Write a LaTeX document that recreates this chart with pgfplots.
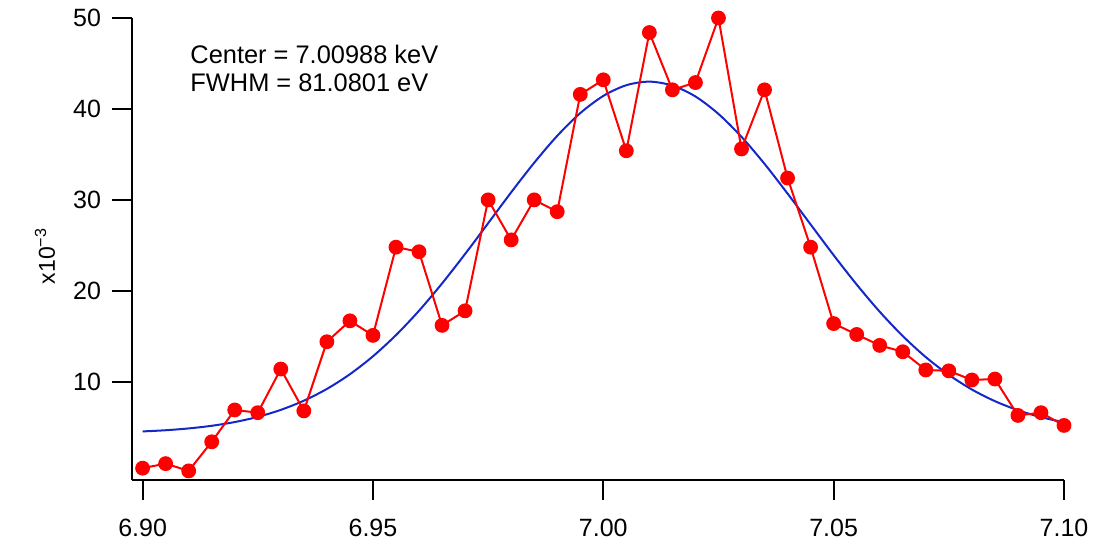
\documentclass[border=0pt]{standalone}
\usepackage{fontspec}
\setmainfont{Liberation Sans}
\usepackage{pgfplots}
\pgfplotsset{compat=1.18}

\definecolor{datred}{RGB}{255,0,0}
\definecolor{fitblue}{RGB}{20,40,200}

\begin{document}
\begin{tikzpicture}
\begin{axis}[
    at={(0,0)}, anchor=south west,
    scale only axis,
    width=466pt, height=231pt,
    xmin=6.8977, xmax=7.10,
    ymin=-0.8, ymax=50,
    axis lines*=left,
    axis line style={-, line width=1pt},
    xtick align=outside, ytick align=outside,
    major tick length=10pt,
    xtick style={black, line width=1pt},
    ytick style={black, line width=1pt},
    xtick={6.90,6.95,7.00,7.05,7.10},
    xticklabels={6.90,6.95,7.00,7.05,7.10},
    ytick={10,20,30,40,50},
    yticklabels={10,20,30,40,50},
    ticklabel style={font=\fontsize{12.5}{14}\selectfont},
    xticklabel style={yshift=-5.75pt},
    yticklabel style={xshift=-2pt},
    ylabel={x10\textsuperscript{−3}},
    ylabel style={at={(axis description cs:-0.0933,0.485)}, anchor=center, font=\fontsize{11.5}{13}\selectfont},
    clip=false,
]

\addplot[fitblue, line width=1pt, smooth] coordinates {
    (6.900,4.54) (6.905,4.67) (6.910,4.87) (6.915,5.16) (6.920,5.57)
    (6.925,6.14) (6.930,6.91) (6.935,7.92) (6.940,9.21) (6.945,10.83)
    (6.950,12.80) (6.955,15.13) (6.960,17.81) (6.965,20.81) (6.970,24.05)
    (6.975,27.43) (6.980,30.83) (6.985,34.08) (6.990,37.04) (6.995,39.54)
    (7.000,41.43) (7.005,42.61) (7.010,43.00) (7.015,42.57) (7.020,41.37)
    (7.025,39.45) (7.030,36.93) (7.035,33.96) (7.040,30.69) (7.045,27.30)
    (7.050,23.92) (7.055,20.69) (7.060,17.70) (7.065,15.03) (7.070,12.71)
    (7.075,10.76) (7.080,9.15) (7.085,7.87) (7.090,6.87) (7.095,6.11)
    (7.100,5.55)
};

\addplot[datred, line width=1pt, mark=*, mark size=3.2pt, mark options={fill=datred, draw=datred}] coordinates {
    (6.900,0.5) (6.905,1.0) (6.910,0.2) (6.915,3.4) (6.920,6.9)
    (6.925,6.6) (6.930,11.4) (6.935,6.8) (6.940,14.4) (6.945,16.7)
    (6.950,15.1) (6.955,24.8) (6.960,24.3) (6.965,16.2) (6.970,17.8)
    (6.975,30.0) (6.980,25.6) (6.985,30.0) (6.990,28.7) (6.995,41.6)
    (7.000,43.2) (7.005,35.4) (7.010,48.4) (7.015,42.1) (7.020,42.9)
    (7.025,50.0) (7.030,35.6) (7.035,42.1) (7.040,32.4) (7.045,24.8)
    (7.050,16.4) (7.055,15.2) (7.060,14.0) (7.065,13.3) (7.070,11.3)
    (7.075,11.2) (7.080,10.2) (7.085,10.3) (7.090,6.3) (7.095,6.6)
    (7.100,5.2)
};

\node[anchor=base west, font=\fontsize{12.7}{14}\selectfont, inner sep=0pt] at (axis cs:6.9103,45.0) {Center = 7.00988 keV};
\node[anchor=base west, font=\fontsize{12.7}{14}\selectfont, inner sep=0pt] at (axis cs:6.9103,41.9) {FWHM = 81.0801 eV};
\end{axis}
\pgfresetboundingbox
\path[use as bounding box] (-66pt,-32pt) rectangle (488.5pt,240pt);
\end{tikzpicture}
\end{document}
